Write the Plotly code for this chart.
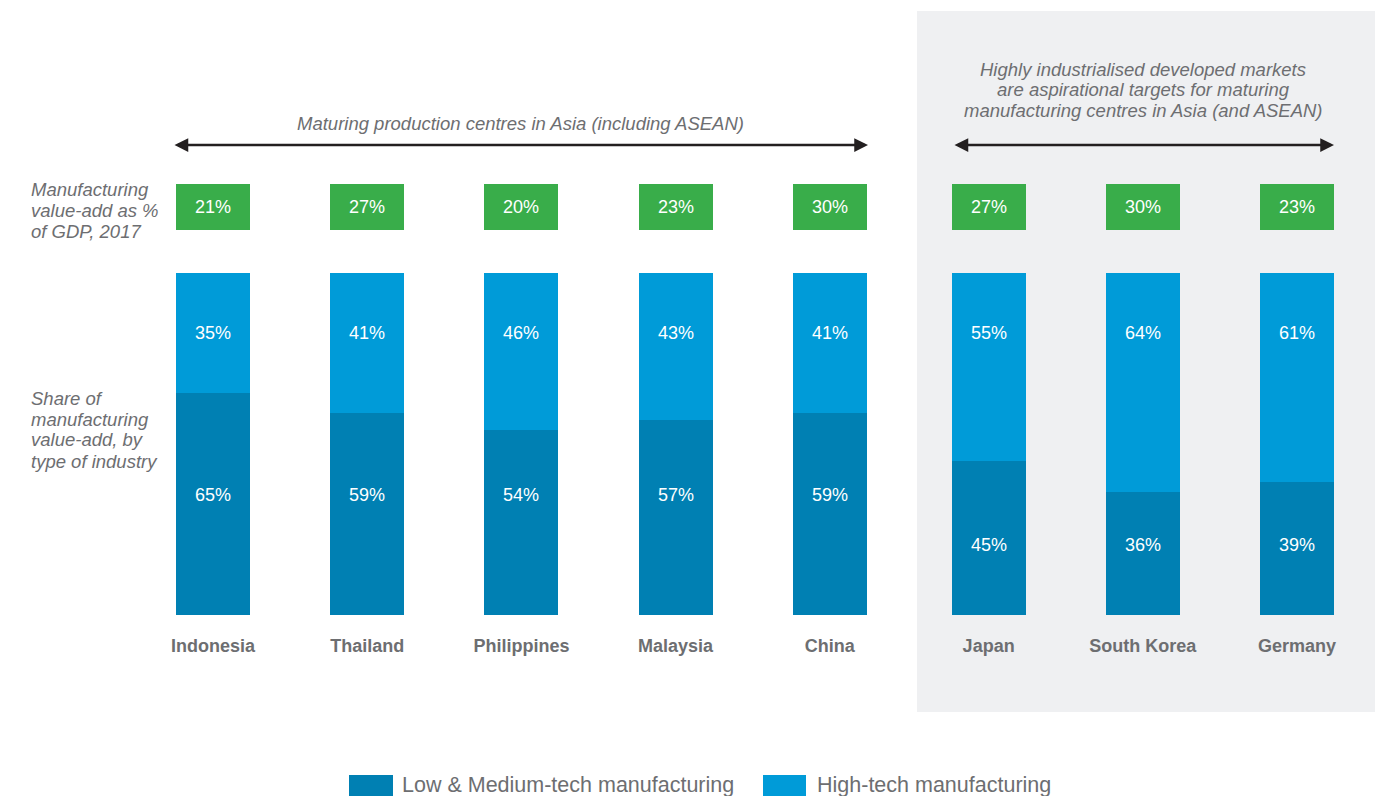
import plotly.graph_objects as go

# ---- data ----
countries = ["Indonesia", "Thailand", "Philippines", "Malaysia", "China",
             "Japan", "South Korea", "Germany"]
developed = [False, False, False, False, False, True, True, True]
gdp_share = [21, 27, 20, 23, 30, 27, 30, 23]          # manufacturing value-add, % of GDP 2017
low_med_tech = [65, 59, 54, 57, 59, 45, 36, 39]        # % of manufacturing value-add
high_tech = [35, 41, 46, 43, 41, 55, 64, 61]

# ---- layout constants ----
W, H = 1388, 796
FONT = "Liberation Sans, Arial, sans-serif"
GREY_TXT = "#6d6e71"
C_LOW = "#0080b3"
C_HIGH = "#009bd8"
C_GREEN = "#39ad4a"
PANEL = "#eff0f2"

UNIT = 154.2          # px between neighbouring bars
X0_PX = 213           # px centre of first bar
GROUP_GAP = 0.03      # extra spacing before the developed-market group
xpos = [i + (GROUP_GAP if d else 0) for i, d in enumerate(developed)]
x_lo = -X0_PX / UNIT
x_hi = x_lo + W / UNIT
bar_w = 74 / UNIT


def py(px):
    """pixel row -> paper y"""
    return 1 - px / H


def pxx(px):
    """pixel column -> paper x"""
    return px / W


fig = go.Figure()

# stacked share bars
fig.add_trace(go.Bar(x=xpos, y=low_med_tech, width=bar_w, marker_color=C_LOW,
                     marker_line_width=0, name="Low & Medium-tech manufacturing",
                     showlegend=False, hoverinfo="skip"))
fig.add_trace(go.Bar(x=xpos, y=high_tech, width=bar_w, marker_color=C_HIGH,
                     marker_line_width=0, name="High-tech manufacturing",
                     showlegend=False, hoverinfo="skip"))

# green GDP-share boxes (fixed height tiles labelled with the value)
fig.add_trace(go.Bar(x=xpos, y=[1] * len(gdp_share), width=bar_w, yaxis="y2",
                     marker_color=C_GREEN, marker_line_width=0,
                     text=[f"{v}%" for v in gdp_share], textposition="inside",
                     insidetextanchor="middle", textangle=0,
                     textfont=dict(color="white", size=18, family=FONT),
                     showlegend=False, hoverinfo="skip"))

annotations = []

# value labels inside the share bars, in fixed rows
for x, lo, hi, d in zip(xpos, low_med_tech, high_tech, developed):
    annotations.append(dict(x=x, xref="x", y=py(333), yref="paper", text=f"{hi}%",
                            showarrow=False, font=dict(color="white", size=18, family=FONT),
                            xanchor="center", yanchor="middle"))
    annotations.append(dict(x=x, xref="x", y=py(545 if d else 495), yref="paper",
                            text=f"{lo}%", showarrow=False,
                            font=dict(color="white", size=18, family=FONT),
                            xanchor="center", yanchor="middle"))

# row captions on the left
italic = dict(color=GREY_TXT, size=18.5, family=FONT, style="italic")
for txt, yy in [("Manufacturing", 190), ("value-add as %", 211), ("of GDP, 2017", 232),
                ("Share of", 398), ("manufacturing", 419), ("value-add, by", 440),
                ("type of industry", 461)]:
    annotations.append(dict(x=pxx(29), y=py(yy), xref="paper", yref="paper", text=txt,
                            showarrow=False, xanchor="left", yanchor="middle", font=italic))

# group headings
annotations.append(dict(x=pxx(520), y=py(123), xref="paper", yref="paper",
                        text="Maturing production centres in Asia (including ASEAN)",
                        showarrow=False, xanchor="center", yanchor="middle", font=italic))
for txt, yy in [("Highly industrialised developed markets", 69),
                ("are aspirational targets for maturing", 90),
                ("manufacturing centres in Asia (and ASEAN)", 111)]:
    annotations.append(dict(x=pxx(1143), y=py(yy), xref="paper", yref="paper", text=txt,
                            showarrow=False, xanchor="center", yanchor="middle", font=italic))

# double-headed arrows
for a, b in [(173, 868), (953, 1334)]:
    annotations.append(dict(x=pxx(b), y=py(145), ax=a - b, ay=0,
                            xref="paper", yref="paper", axref="pixel", ayref="pixel",
                            text="", showarrow=True, arrowhead=2, startarrowhead=2,
                            arrowside="end+start", arrowsize=1.1, startarrowsize=1.1,
                            arrowwidth=2.5, arrowcolor="#231f20", standoff=0, startstandoff=0))

# legend
shapes = [dict(type="rect", xref="paper", yref="paper", x0=pxx(917), x1=pxx(1375),
               y0=py(712), y1=py(11), fillcolor=PANEL, line_width=0, layer="below")]
for x0, x1, col, txt, tx in [(349, 393, C_LOW, "Low & Medium-tech manufacturing", 400),
                              (763, 806, C_HIGH, "High-tech manufacturing", 815)]:
    shapes.append(dict(type="rect", xref="paper", yref="paper", x0=pxx(x0), x1=pxx(x1),
                       y0=py(800), y1=py(775), fillcolor=col, line_width=0))
    annotations.append(dict(x=pxx(tx), y=py(785), xref="paper", yref="paper", text=txt,
                            showarrow=False, xanchor="left", yanchor="middle",
                            font=dict(color=GREY_TXT, size=21.5, family=FONT)))

fig.update_layout(
    width=W, height=H,
    margin=dict(l=0, r=0, t=0, b=0),
    paper_bgcolor="white", plot_bgcolor="rgba(0,0,0,0)",
    barmode="stack", bargap=0,
    font=dict(family=FONT, color=GREY_TXT),
    xaxis=dict(range=[x_lo, x_hi], tickvals=xpos,
               ticktext=[f"<b>{c}</b>" for c in countries],
               tickfont=dict(size=18, color=GREY_TXT, family=FONT),
               ticks="outside", ticklen=14, tickcolor="rgba(0,0,0,0)",
               showgrid=False, zeroline=False, showline=False, fixedrange=True),
    yaxis=dict(domain=[py(615), py(273)], range=[0, 100], visible=False, fixedrange=True),
    yaxis2=dict(domain=[py(230), py(184)], range=[0, 1], visible=False,
                anchor="x", fixedrange=True),
    shapes=shapes,
    annotations=annotations,
    showlegend=False,
    uniformtext=dict(mode=False),
)

fig.write_html("out.html", config={"displayModeBar": False})
